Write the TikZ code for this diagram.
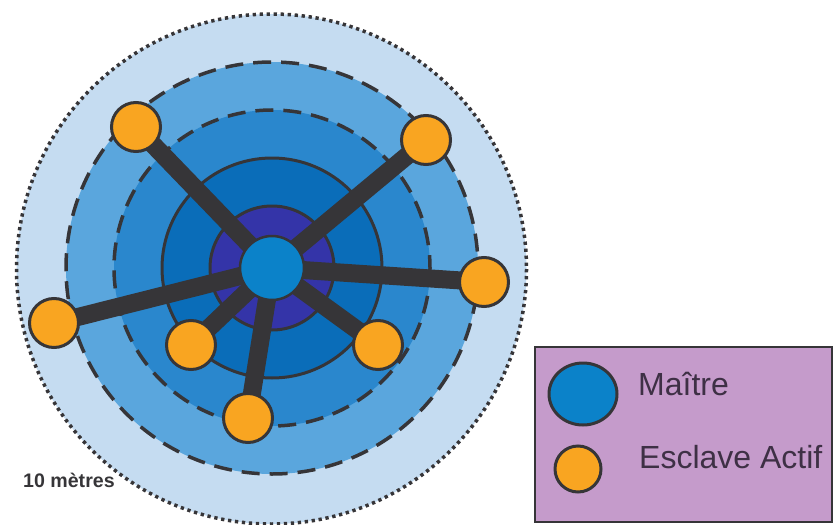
\documentclass[tikz,border=0pt]{standalone}
\usepackage{fontspec}
\setmainfont{Liberation Sans}
\usetikzlibrary{shapes.geometric}
\definecolor{ringA}{HTML}{C5DCF1}
\definecolor{ringB}{HTML}{5AA6DD}
\definecolor{ringC}{HTML}{2A87CD}
\definecolor{ringD}{HTML}{0A6DB9}
\definecolor{ringE}{HTML}{3434A8}
\definecolor{mastercol}{HTML}{0B82C9}
\definecolor{slavecol}{HTML}{F9A521}
\definecolor{ink}{HTML}{363538}
\definecolor{legendbg}{HTML}{C59BCB}
\definecolor{legendtxt}{HTML}{3E3045}
\pgfdeclarelayer{rings}
\pgfdeclarelayer{edges}
\pgfsetlayers{rings,edges,main}
\tikzset{
  slavenode/.style={circle, minimum size=49pt, inner sep=0pt, fill=slavecol, draw=ink, line width=3pt},
  masternode/.style={circle, minimum size=64pt, inner sep=0pt, fill=mastercol, draw=ink, line width=2.5pt},
  link/.style={draw=ink, line width=18pt},
  legtext/.style={anchor=base west, inner sep=0pt, text=legendtxt, font=\fontsize{32}{32}\selectfont},
}
\begin{document}
\begin{tikzpicture}[x=1pt,y=-1pt]
\useasboundingbox (0,0) rectangle (834,524);
\begin{pgfonlayer}{rings}
\fill[ringA] (271.5,269) circle (255);
\draw[ink, line width=3.5pt, dash pattern=on 3.3pt off 3.7pt] (271.5,269) circle (255);
\fill[ringB] (272,268) circle (206);
\draw[ink, line width=3.5pt, dash pattern=on 18pt off 10pt] (272,268) circle (206);
\fill[ringC] (272,268) circle (158);
\draw[ink, line width=3.5pt, dash pattern=on 18pt off 10pt] (272,268) circle (158);
\fill[ringD] (272,268) circle (110);
\draw[ink, line width=3pt] (272,268) circle (110);
\fill[ringE] (272,268) circle (62);
\draw[ink, line width=3pt] (272,268) circle (62);
\end{pgfonlayer}

\node[masternode] (m) at (272,268) {};
\node[slavenode] (s1) at (136,127) {};
\node[slavenode] (s2) at (426,140) {};
\node[slavenode] (s3) at (484,282) {};
\node[slavenode] (s4) at (54,323) {};
\node[slavenode] (s5) at (191,345) {};
\node[slavenode] (s6) at (378,345) {};
\node[slavenode] (s7) at (248,418) {};

\begin{pgfonlayer}{edges}
\foreach \s in {s1,s2,s3,s4,s5,s6,s7} {
  \draw[link] (m.center) -- (\s.center);
}
\end{pgfonlayer}

\node[anchor=base west, inner sep=0pt, text=ink, font=\fontsize{19.6}{19.6}\selectfont\bfseries] (scale) at (23,487) {10 mètres};

\node[draw=ink, fill=legendbg, line width=2pt, minimum width=297pt, minimum height=175pt, inner sep=0pt] (legend) at (683,434) {};
\node[ellipse, minimum width=68pt, minimum height=62pt, inner sep=0pt, fill=mastercol, draw=ink, line width=3pt] (lm) at (583,394) {};
\node[circle, minimum size=46pt, inner sep=0pt, fill=slavecol, draw=ink, line width=3pt] (ls) at (578,469) {};
\node[legtext] (lmt) at (638,395) {Maître};
\node[legtext] (lst) at (639,468) {Esclave Actif};
\end{tikzpicture}
\end{document}
